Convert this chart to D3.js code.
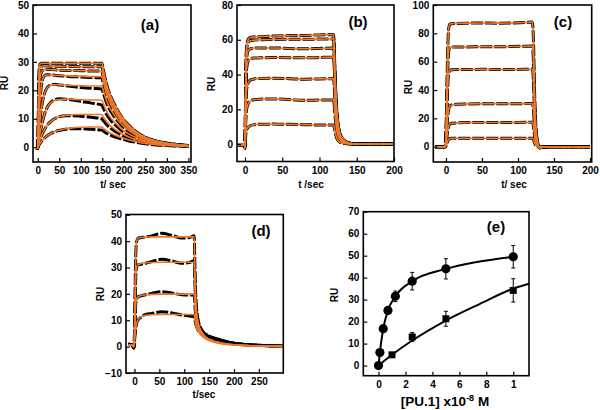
<!DOCTYPE html>
<html><head><meta charset="utf-8">
<script src="https://cdn.jsdelivr.net/npm/d3@7/dist/d3.min.js"></script>
<style>body{margin:0;background:#fff}svg text{font-family:"Liberation Sans",Arial,sans-serif;font-weight:bold;fill:#000}</style>
</head><body><svg id="c" width="600" height="410"></svg>
<script>
// ---------- Panel (a) ----------
const aTimes = [-6,0,3,6,10,15,20,30,40,50,65,80,100,125,149,152,160,170,180,195,210,230,250,275,300,325,350];
const aData = [
 [-0.5,-0.3,27,29.3,29.5,29.5,29.5,29.5,29.5,29.5,29.5,29.5,29.5,29.5,29.5,27.4,22.1,17.7,14.5,10.6,8.0,5.3,3.5,2.2,1.4,0.9,0.6],
 [-0.5,-0.3,24,28,28.5,28.6,28.6,28.5,28.5,28.5,28.4,28.4,28.3,28.3,28.3,26.3,21.2,17.0,13.9,10.2,7.7,5.1,3.4,2.1,1.4,0.9,0.6],
 [-0.5,-0.3,19,25,26.8,27.3,27.4,27.3,27.2,27.1,27.0,27.0,26.9,26.8,26.8,24.9,20.1,16.1,13.1,9.6,7.2,4.8,3.2,2.0,1.3,0.8,0.5],
 [-0.5,-0.3,11,18,23,25,25.5,25.5,25.3,25.1,25.0,24.8,24.7,24.5,24.4,22.7,18.3,14.6,11.9,8.8,6.6,4.4,2.9,1.8,1.2,0.8,0.5],
 [-0.5,-0.3,5.5,10.5,15,18.5,20.5,21.9,22.1,21.9,21.6,21.3,21.0,20.7,20.5,19.1,15.5,12.5,10.3,7.6,5.7,3.9,2.6,1.7,1.1,0.7,0.5],
 [-0.5,-0.3,2.8,5.3,8.3,11.3,13.4,15.7,16.7,17.0,16.9,16.6,16.1,15.5,14.8,13.9,11.5,9.4,7.8,5.9,4.5,3.1,2.1,1.4,0.9,0.6,0.4],
 [-0.5,-0.3,1.5,2.9,4.5,6.0,7.3,9.0,10.1,10.7,11.1,11.1,10.9,10.5,10.0,9.4,7.9,6.6,5.5,4.3,3.3,2.3,1.6,1.1,0.7,0.5,0.3],
 [-0.5,-0.3,0.8,1.5,2.3,3.1,3.8,4.8,5.5,5.9,6.3,6.5,6.5,6.3,6.0,5.7,4.9,4.2,3.6,2.9,2.3,1.7,1.2,0.8,0.6,0.4,0.3]
];
const aFit = [
 null, null, null,
 [-0.5,-0.3,11,18,23,25,25.4,25.4,25.3,25.2,25.1,25.0,24.9,24.8,24.8,23.1,18.6,14.9,12.2,9.0,6.7,4.5,3.0,1.9,1.2,0.8,0.5],
 [-0.5,-0.3,5.5,10.5,15,18.5,20.5,21.8,22.0,21.9,21.8,21.7,21.6,21.5,21.5,20.0,16.2,13.1,10.8,8.0,6.0,4.1,2.7,1.8,1.1,0.7,0.5],
 [-0.5,-0.3,2.8,5.3,8.3,11.3,13.4,15.6,16.5,16.8,16.9,16.8,16.7,16.6,16.5,15.4,12.6,10.3,8.5,6.4,4.8,3.3,2.2,1.5,0.9,0.6,0.4],
 [-0.5,-0.3,1.5,2.9,4.5,6.0,7.3,9.0,10.1,10.7,11.2,11.4,11.5,11.5,11.5,10.7,9.0,7.4,6.2,4.8,3.7,2.6,1.8,1.2,0.8,0.5,0.3],
 [-0.5,-0.3,0.8,1.5,2.3,3.1,3.8,4.8,5.5,6.0,6.5,6.8,7.0,7.1,7.1,6.7,5.7,4.9,4.2,3.3,2.6,1.9,1.3,0.9,0.6,0.4,0.3]
];
const aXTicks = [0,50,100,150,200,250,300,350];
const aYTicks = [0,10,20,30,40,50];

// ---------- Panel (b) ----------
const bTimes = [-9,-1,0,1,2,4,7,12,20,40,60,80,100,119,120.5,122,124,127,131,136,142,150,175,200];
const bData = [
 [-0.3,-0.3,-1.5,35,55,60,61.3,61.6,61.8,62.2,62.4,62.5,62.8,63,45.4,28.4,15.1,6.9,3.2,1.3,0.4,0,0,0],
 [-0.3,-0.3,-1.5,34,53,58.5,59.5,59.8,60,60.2,60.3,60.3,60.4,60.5,43.6,27.2,14.5,6.7,3.0,1.2,0.4,0,0,0],
 [-0.3,-0.3,-1.5,30,48,53.5,54.8,55.2,55.3,55.3,55.0,54.8,55.0,55.3,39.8,24.9,13.3,6.1,2.8,1.1,0.4,0,0,0],
 [-0.3,-0.3,-1.5,26,42,47.5,49,49.5,49.6,49.8,49.7,49.6,49.8,50,36,22.5,12,5.5,2.5,1.0,0.35,0,0,0],
 [-0.3,-0.3,-1.5,19,30,35,36.8,37.5,37.8,37.9,37.6,37.3,37.5,37.6,27.1,16.9,9.0,4.1,1.9,0.8,0.3,0,0,0],
 [-0.3,-0.3,-1.5,12,19.5,23,24.7,25.5,25.8,26,25.6,25.2,25.3,25.4,18.3,11.4,6.1,2.8,1.3,0.5,0.2,0,0,0],
 [-0.3,-0.3,-2.5,5,8,9.5,10.5,11.1,11.4,11.5,11.4,11.2,11.0,11.0,8.0,5.0,2.6,1.2,0.6,0.2,0.1,0,0,0]
];
const bXTicks = [0,50,100,150,200];
const bYTicks = [0,20,40,60,80];

// ---------- Panel (c) ----------
const cTimes = [-15,-1,0.5,2,3.5,5,8,15,30,50,70,90,110,120,121.5,123,125,127,130,135,150,200];
const cData = [
 [0,0,20,60,82,86.3,86.8,87,87.2,87.3,87.2,87.3,87.6,88,75,40,13,4,-0.8,-0.3,0,0],
 [0,0,16,48,66,69.8,70.3,70.4,70.4,70.6,70.5,70.7,70.9,71,60,32,10.5,3.3,-0.8,-0.3,0,0],
 [0,0,12,37,51,53.8,54.3,54.5,54.5,54.6,54.5,54.5,54.6,54.7,46.5,24.6,8.2,2.6,-0.8,-0.3,0,0],
 [0,0,6,19,26,28.5,29.5,30,30.2,30.3,30.3,30.3,30.4,30.4,25.8,13.7,4.6,1.5,-0.6,-0.2,0,0],
 [0,0,3,10,14,15.8,16.5,16.8,17,17,17.1,17.1,17.2,17.2,14.6,7.7,2.6,0.9,-0.4,-0.1,0,0],
 [0,0,1,3.5,5,5.6,5.9,6,6,6,6,6,6,6,5.1,2.7,0.9,0.3,-0.3,-0.1,0,0]
];
const cXTicks = [0,50,100,150,200];
const cYTicks = [0,20,40,60,80,100];

// ---------- Panel (d) ----------
const dTimes = [-12,-5,-1,0.5,2,4,7,12,20,35,55,75,95,110,120,121.5,123,125,128,132,140,150,165,190,225,260,298];
const dData = [
 [0.9,0.7,-0.5,10,30,39.5,41,41.3,41.5,42,43,42.2,41.2,41.3,42,30,20,14,10,7.5,5.2,4.0,3.0,1.7,0.8,0.4,0.2],
 [0.9,0.7,-0.5,8,23,30,31,31.2,31.5,32.3,33.1,32.5,31.6,31.9,32.6,24,17,12.5,9,7,5.0,3.9,2.9,1.6,0.8,0.4,0.2],
 [0.9,0.7,-0.5,5,14,18,18.9,19.2,19.6,20.2,20.8,20.3,19.7,19.6,19.6,15.5,12,9.5,7.5,6,4.6,3.6,2.7,1.5,0.7,0.4,0.2],
 [0.9,0.7,-0.5,3,6,8.5,10,11,12,12.6,13.2,12.8,12,11.6,11.4,10,8.5,7.5,6.2,5.2,4.2,3.3,2.5,1.4,0.7,0.4,0.2]
];
const dFit = [
 [0.5,0.5,0,10,30,39.5,41,41.4,41.5,41.6,41.6,41.6,41.6,41.6,41.6,29,19,13,9,6.8,4.2,2.8,1.8,0.9,0.4,0.2,0.1],
 [0.5,0.5,0,8,23,30,31,31.4,31.7,31.9,32,32,32,32,32,23,16,11.5,8.2,6.3,4.0,2.7,1.7,0.9,0.4,0.2,0.1],
 [0.5,0.5,0,5,14,18,18.9,19.3,19.6,19.8,19.9,19.9,19.9,19.9,19.9,15,11.5,9,7,5.5,3.7,2.5,1.6,0.8,0.4,0.2,0.1],
 [0.5,0.5,0,3,6,8.5,10,11.2,11.8,12.1,12.2,12.2,12.2,12.2,12.2,10,8.2,7,5.8,4.7,3.3,2.3,1.5,0.8,0.4,0.2,0.1]
];
const dXTicks = [0,50,100,150,200,250];
const dYTicks = [-10,0,10,20,30,40,50];

// ---------- Panel (e) ----------
const eCircX = [0,0.1,0.35,0.7,1.25,2.5,5,10];
const eCircY = [0,5.9,16.8,25.1,31.5,38.4,44,49.5];
const eCircErr = [0,0,0,0,2.4,4,4.6,5.1];
const eSqX = [1,2.5,5,10];
const eSqY = [4.9,13,21.3,34.2];
const eSqErr = [0,2,3.4,5.3];
const eSqFitX = [0,1,2.5,5,7.5,10,11.17];
const eSqFitY = [0,4.9,11.4,20.5,28,35,37.2];
const eXTicks = [0,2,4,6,8,10];
const eXTickLabels = ["0","2","4","6","8","1"];
const eYTicks = [0,10,20,30,40,50,60,70];

const ORANGE = "#f07828";
const svg = d3.select("#c");

function panelFrame(p){
  const g = svg.append("g");
  const x = d3.scaleLinear().domain(p.xd).range([p.box[0], p.box[2]]);
  const y = d3.scaleLinear().domain(p.yd).range([p.box[3], p.box[1]]);
  const cid = "clip" + p.id;
  svg.append("clipPath").attr("id", cid).append("rect")
    .attr("x", p.box[0]).attr("y", p.box[1]).attr("width", p.box[2]-p.box[0]).attr("height", p.box[3]-p.box[1]);
  const plot = g.append("g").attr("clip-path", `url(#${cid})`);
  const xa = d3.axisBottom(x).tickValues(p.xt).tickSize(-4).tickPadding(5)
    .tickFormat((d,i)=> p.xtl ? p.xtl[i] : d);
  const ya = d3.axisLeft(y).tickValues(p.yt).tickSize(-4).tickPadding(4);
  const gx = g.append("g").attr("transform", `translate(0,${p.box[3]})`).call(xa);
  const gy = g.append("g").attr("transform", `translate(${p.box[0]},0)`).call(ya);
  [gx, gy].forEach(a => {
    a.select(".domain").remove();
    a.selectAll("line").attr("stroke", "#000").attr("stroke-width", 1.2);
    a.selectAll("text").style("font-size", "10px").style("font-family", '"Liberation Sans",Arial,sans-serif').style("font-weight", "bold");
  });
  g.append("rect").attr("x", p.box[0]).attr("y", p.box[1])
    .attr("width", p.box[2]-p.box[0]).attr("height", p.box[3]-p.box[1])
    .attr("fill", "none").attr("stroke", "#000").attr("stroke-width", 1.6);
  g.append("text").attr("x", p.lx).attr("y", p.ly).attr("text-anchor", "middle")
    .style("font-size", "15px").text(p.label);
  const xt = g.append("text").attr("x", p.xlx).attr("y", p.xly).attr("text-anchor", "middle")
    .style("font-size", p.xls || "10px");
  if (p.xlab === "PU") {
    xt.append("tspan").text("[PU.1] x10");
    xt.append("tspan").attr("dy", -5).style("font-size", "9px").text("-8");
    xt.append("tspan").attr("dy", 5).text(" M");
  } else xt.text(p.xlab);
  g.append("text").attr("transform", `translate(${p.ylx},${p.yly}) rotate(-90)`)
    .attr("text-anchor", "middle").style("font-size", "10px").text("RU");
  return {x, y, plot};
}

function sensorgram(p, times, data, fits){
  const {x, y, plot} = panelFrame(p);
  const line = d3.line().x(d => x(d[0])).y(d => y(d[1])).curve(d3.curveMonotoneX);
  data.forEach(vals => {
    plot.append("path").attr("d", line(times.map((t,i)=>[t, vals[i]])))
      .attr("fill", "none").attr("stroke", "#000").attr("stroke-width", 3)
      .attr("stroke-dasharray", "12,2").attr("stroke-linejoin", "round");
  });
  data.forEach((vals, k) => {
    const f = (fits && fits[k]) ? fits[k] : vals;
    plot.append("path").attr("d", line(times.map((t,i)=>[t, f[i]])))
      .attr("fill", "none").attr("stroke", ORANGE).attr("stroke-width", 1.6);
  });
}

sensorgram({id:"a", box:[33,5,191,162], xd:[-11,356], yd:[-5.2,50], xt:aXTicks, yt:aYTicks,
  label:"(a)", lx:150, ly:30, xlab:"t/ sec", xlx:113, xly:188, ylx:8, yly:83}, aTimes, aData, aFit);
sensorgram({id:"b", box:[237,5,394,161.5], xd:[-10.7,200], yd:[-10,80], xt:bXTicks, yt:bYTicks,
  label:"(b)", lx:358, ly:27, xlab:"t /sec", xlx:311, xly:188, ylx:215, yly:84}, bTimes, bData, null);
sensorgram({id:"c", box:[433.3,5,591.7,162], xd:[-17.6,202.4], yd:[-10.8,100], xt:cXTicks, yt:cYTicks,
  label:"(c)", lx:563, ly:27, xlab:"t/ sec", xlx:514, xly:188, ylx:412, yly:87}, cTimes, cData, null);
sensorgram({id:"d", box:[126,214.5,283.3,373], xd:[-17,299], yd:[-10,50.1], xt:dXTicks, yt:dYTicks,
  label:"(d)", lx:261, ly:236, xlab:"t/sec", xlx:204, xly:398, ylx:104, yly:294}, dTimes, dData, dFit);

// panel (e)
(function(){
  const p = {id:"e", box:[363.3,211.7,529,375.7], xd:[-1.13,11.17], yd:[-4.6,70], xt:eXTicks, xtl:eXTickLabels, yt:eYTicks,
    label:"(e)", lx:496, ly:232, xlab:"PU", xls:"13.5px", xlx:445, xly:406, ylx:338, yly:295};
  const {x, y, plot} = panelFrame(p);
  const line = d3.line().x(d => x(d[0])).y(d => y(d[1])).curve(d3.curveMonotoneX);
  plot.append("path").attr("d", line(eCircX.map((v,i)=>[v, eCircY[i]])))
    .attr("fill","none").attr("stroke","#000").attr("stroke-width",2);
  plot.append("path").attr("d", line(eSqFitX.map((v,i)=>[v, eSqFitY[i]])))
    .attr("fill","none").attr("stroke","#000").attr("stroke-width",2);
  function err(xs, ys, es){
    xs.forEach((v,i)=>{
      if(!es[i]) return;
      const cx = x(v), y0 = y(ys[i]-es[i]), y1 = y(ys[i]+es[i]);
      plot.append("line").attr("x1",cx).attr("x2",cx).attr("y1",y0).attr("y2",y1).attr("stroke","#000").attr("stroke-width",1);
      [y0,y1].forEach(yy => plot.append("line").attr("x1",cx-2).attr("x2",cx+2).attr("y1",yy).attr("y2",yy).attr("stroke","#000").attr("stroke-width",1));
    });
  }
  err(eCircX, eCircY, eCircErr);
  err(eSqX, eSqY, eSqErr);
  eSqX.forEach((v,i)=> plot.append("rect").attr("x", x(v)-3.5).attr("y", y(eSqY[i])-3.5).attr("width",7).attr("height",7).attr("fill","#000"));
  eCircX.forEach((v,i)=> plot.append("circle").attr("cx", x(v)).attr("cy", y(eCircY[i])).attr("r",4.6).attr("fill","#000"));
})();
</script></body></html>
